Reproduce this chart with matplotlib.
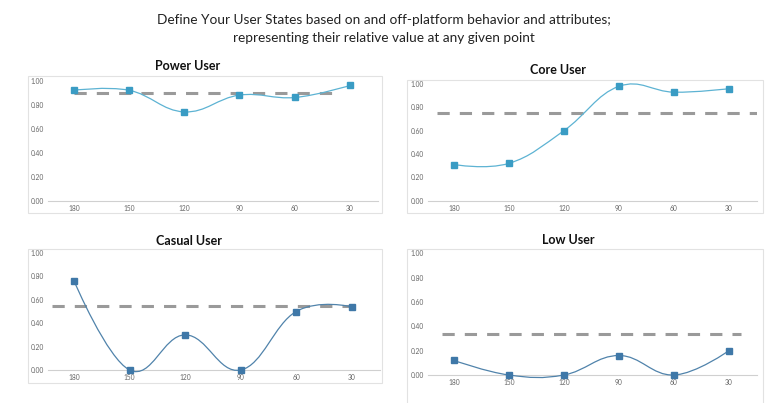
import numpy as np
import matplotlib
matplotlib.use("Agg")
import matplotlib.pyplot as plt
from matplotlib.path import Path
from matplotlib.patches import PathPatch, Rectangle

# data
days = ["180", "150", "120", "90", "60", "30"]
power_user = [0.92, 0.92, 0.74, 0.88, 0.86, 0.96]
core_user = [0.31, 0.32, 0.60, 0.98, 0.93, 0.96]
casual_user = [0.76, 0.00, 0.30, 0.00, 0.50, 0.54]
low_user = [0.12, 0.00, 0.00, 0.16, 0.00, 0.20]
power_avg = 0.90
core_avg = 0.75
casual_avg = 0.55
low_avg = 0.34
y_ticks = [0.0, 0.2, 0.4, 0.6, 0.8, 1.0]

W, H = 768, 403
plt.rcParams['font.family'] = ['Lato', 'DejaVu Sans']
fig = plt.figure(figsize=(W / 100, H / 100), dpi=100)


def px_rect(left, top, right, bottom):
    # pixel box -> figure fraction [l, b, w, h]
    return [left / W, 1 - bottom / H, (right - left) / W, (bottom - top) / H]


def spline_path(xs, ys, smoothing=1.5):
    # smooth spline through the points, cubic bezier per segment
    n = len(xs)
    verts = [(xs[0], ys[0])]
    codes = [Path.MOVETO]
    ctrl = []
    for i in range(n):
        if i == 0 or i == n - 1:
            ctrl.append(((xs[i], ys[i]), (xs[i], ys[i])))
            continue
        d = smoothing + 1
        lx = (smoothing * xs[i] + xs[i - 1]) / d
        ly = (smoothing * ys[i] + ys[i - 1]) / d
        rx = (smoothing * xs[i] + xs[i + 1]) / d
        ry = (smoothing * ys[i] + ys[i + 1]) / d
        corr = (ry - ly) * (rx - xs[i]) / (rx - lx) + ys[i] - ry
        ctrl.append(((lx, ly + corr), (rx, ry + corr)))
    for i in range(1, n):
        verts += [ctrl[i - 1][1], ctrl[i][0], (xs[i], ys[i])]
        codes += [Path.CURVE4] * 3
    return Path(verts, codes)


panels = [
    # title, values, avg, axes px box, frame px box, title pos, colours, dash extent
    ("Power User", power_user, power_avg, (48, 80.7, 378, 200.7), (28, 76, 382, 213),
     (188, 66), "#5db3d3", "#3a9cc4", (0.0, 4.77)),
    ("Core User", core_user, core_avg, (428, 84, 757, 200.7), (407, 80, 763, 213),
     (558, 70), "#5db3d3", "#3a9cc4", (-0.31, 5.51)),
    ("Casual User", casual_user, casual_avg, (48, 253, 380, 370), (28, 249, 382, 383),
     (189, 241), "#5083ab", "#3f78a8", (-0.39, 5.16)),
    ("Low User", low_user, low_avg, (428, 253.3, 757, 375), (407, 249, 763, 410),
     (568, 240), "#5083ab", "#3f78a8", (-0.22, 5.22)),
]

for title, vals, avg, box, frame, tpos, lc, mc, dext in panels:
    fl, ft, fr, fb = frame
    fig.patches.append(Rectangle((fl / W, 1 - fb / H), (fr - fl) / W, (fb - ft) / H,
                                 transform=fig.transFigure, fill=False,
                                 edgecolor="#e2e2e2", lw=0.8, zorder=0))
    ax = fig.add_axes(px_rect(*box))
    x = np.arange(len(days))
    xlim = (-0.47, 5.51)
    ax.set_xlim(*xlim)
    ax.set_ylim(0, 1)
    ax.patch.set_alpha(0)
    for s in ["top", "right", "left"]:
        ax.spines[s].set_visible(False)
    ax.spines["bottom"].set_color("#d0d0d0")
    ax.spines["bottom"].set_linewidth(0.8)
    ax.set_xticks(x)
    ax.set_xticklabels(days)
    ax.set_yticks(y_ticks)
    ax.set_yticklabels(["%.2f" % v for v in y_ticks])
    ax.tick_params(length=0, labelsize=4.8, labelcolor="#666666")
    ax.tick_params(axis="x", pad=3)
    ax.tick_params(axis="y", pad=3)

    fx0 = (dext[0] - xlim[0]) / (xlim[1] - xlim[0])
    fx1 = (dext[1] - xlim[0]) / (xlim[1] - xlim[0])
    ax.axhline(avg, fx0, fx1, color="#9a9a9a", lw=2.2, dashes=(4, 3.3), zorder=2)

    ax.add_patch(PathPatch(spline_path(list(x), vals), fill=False, edgecolor=lc,
                           lw=0.9, zorder=3, clip_on=False))
    ax.plot(x, vals, ls="none", marker="s", ms=3.8, color=mc, zorder=4, clip_on=False)

    fig.text(tpos[0] / W, 1 - tpos[1] / H, title, ha="center", va="center",
             fontsize=9, fontweight="bold", color="#111111")

fig.text(0.5, 1 - 20 / H, "Define Your User States based on and off-platform behavior and attributes;",
         ha="center", va="center", fontsize=9.8, color="#222222")
fig.text(0.5, 1 - 38 / H, "representing their relative value at any given point",
         ha="center", va="center", fontsize=9.8, color="#222222")

fig.savefig("out.png", dpi=100)
